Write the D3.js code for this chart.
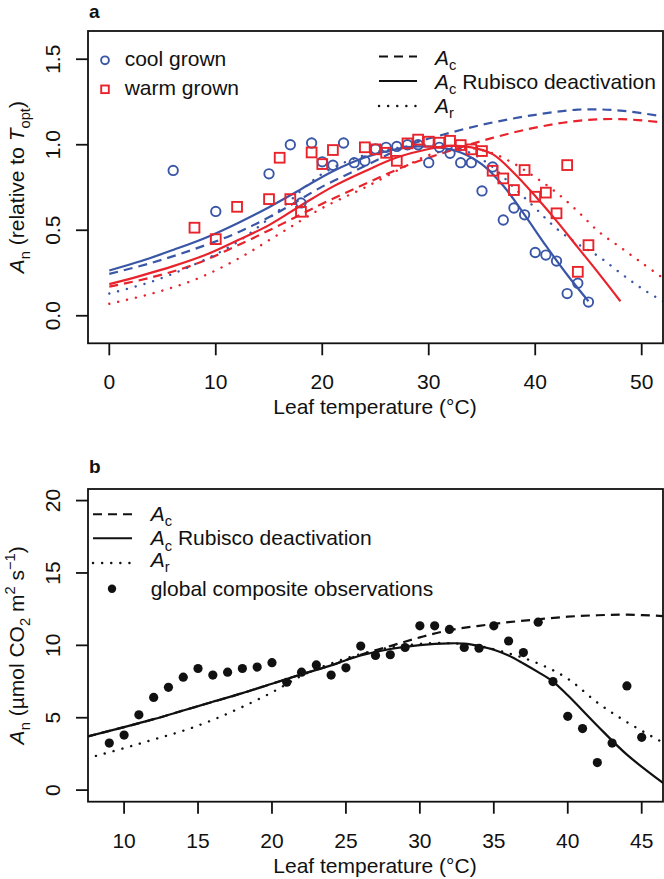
<!DOCTYPE html>
<html><head><meta charset="utf-8">
<script src="https://cdn.jsdelivr.net/npm/d3@7"></script>
<style>
body{margin:0;background:#fff}
text{font-family:"Liberation Sans",Arial,Helvetica,sans-serif;white-space:pre;fill:#111}
</style>
</head><body>
<svg id="chart" width="664" height="879"></svg>
<script>
// ---------- Panel a data ----------
const coolT = [6,10,15,17,18,19,20,21,22,23,24,25,26,27,28,29,30,31,32,33,34,35,36,37,38,39,40,41,42,43,44,45];
const coolV = [0.85,0.61,0.83,1.0,0.66,1.01,0.90,0.88,1.01,0.895,0.905,0.975,0.985,0.99,1.0,1.0,0.895,0.985,0.95,0.895,0.895,0.73,0.87,0.56,0.63,0.59,0.37,0.355,0.32,0.13,0.19,0.08];
const warmT = [8,10,12,15,16,17,18,19,20,21,24,25,26,27,28,29,30,31,32,33,34,35,36,37,38,39,40,41,42,43,44,45];
const warmV = [0.515,0.448,0.637,0.682,0.924,0.682,0.608,0.955,0.887,0.969,0.985,0.973,0.953,0.906,1.008,1.03,1.018,1.012,1.023,0.998,0.973,0.963,0.848,0.803,0.735,0.852,0.696,0.72,0.599,0.881,0.257,0.413];

const coolRubT = [0,3,6,9,12,15,18,21,24,27,29,31,33,35,37,39,41,43,45];
const coolRubV = [0.265,0.32,0.385,0.455,0.54,0.635,0.74,0.845,0.925,0.975,0.99,0.985,0.955,0.885,0.76,0.59,0.41,0.24,0.085];
const warmRubT = [0,3,6,9,12,15,18,21,24,27,30,32,34,36,38,40,42,44,46,48];
const warmRubV = [0.185,0.235,0.29,0.355,0.44,0.53,0.645,0.755,0.845,0.925,0.975,0.993,0.985,0.945,0.835,0.70,0.555,0.40,0.245,0.085];
const acT = [0,4,8,12,16,20,24,28,32,36,40,44,48,52];
const coolAcV = [0.245,0.31,0.39,0.485,0.61,0.755,0.875,0.995,1.07,1.13,1.175,1.205,1.2,1.165];
const warmAcV = [0.17,0.225,0.3,0.41,0.53,0.655,0.77,0.88,0.965,1.04,1.1,1.14,1.15,1.13];
const arT = [0,4,8,12,16,20,24,28,30,32,34,36,38,40,42,44,46,48,50,52];
const coolArV = [0.13,0.2,0.3,0.43,0.62,0.83,0.94,0.99,1.0,0.99,0.95,0.87,0.75,0.63,0.51,0.42,0.345,0.25,0.16,0.085];
const warmArV = [0.07,0.13,0.21,0.33,0.48,0.63,0.75,0.88,0.94,0.97,0.98,0.95,0.89,0.81,0.72,0.61,0.49,0.40,0.31,0.22];
const xTicksA = [0,10,20,30,40,50];
const yTicksA = [0,0.5,1.0,1.5];
const yTickLabelsA = ["0.0","0.5","1.0","1.5"];

// ---------- Panel b data ----------
const obsT = [9,10,11,12,13,14,15,16,17,18,19,20,21,22,23,24,25,26,27,28,29,30,31,32,33,34,35,36,37,38,39,40,41,42,43,44,45];
const obsV = [3.25,3.8,5.2,6.4,7.1,7.8,8.4,7.95,8.15,8.4,8.5,8.8,7.45,8.15,8.65,7.95,8.45,9.95,9.3,9.35,9.85,11.35,11.35,11.1,9.85,9.8,11.35,10.3,9.5,11.6,7.5,5.1,4.25,1.9,3.25,7.2,3.65];
const bRubT = [7.5,10,12,14,16,18,20,22,24,26,28,30,32,33,34,35,36,37,38,39,40,42,44,46.5];
const bRubV = [3.7,4.35,4.9,5.5,6.1,6.7,7.35,8.0,8.62,9.3,9.75,10.02,10.14,10.12,9.95,9.7,9.3,8.75,8.15,7.5,6.55,4.45,2.45,0.45];
const bAcT = [7.5,10,12,14,16,18,20,22,24,26,28,30,32,34,36,38,40,42,44,46.5];
const bAcV = [3.7,4.35,4.9,5.5,6.1,6.7,7.35,8.0,8.62,9.35,9.95,10.55,11.05,11.35,11.6,11.8,11.98,12.08,12.12,12.02];
const bArT = [7.5,10,12,14,16,18,20,22,24,26,28,30,32,34,36,38,40,42,44,46.5];
const bArV = [2.2,2.9,3.5,4.1,4.85,5.75,6.75,7.9,8.75,9.4,9.85,10.1,10.15,9.95,9.45,8.75,7.7,6.05,4.7,3.25];
const xTicksB = [10,15,20,25,30,35,40,45];
const yTicksB = [0,5,10,15,20];

const BLUE = "#3a56a6", RED = "#e8232b";
const FS = 21;
const svg = d3.select("#chart");

function rich(sel, parts, fs) {
  let shift = 0;
  parts.forEach(p => {
    const ts = sel.append("tspan").text(p.t);
    const target = p.sub ? fs * 0.28 : p.sup ? -fs * 0.42 : 0;
    ts.attr("dy", target - shift); shift = target;
    if (p.sub || p.sup) ts.attr("font-size", fs * 0.7);
    if (p.it) ts.attr("font-style", "italic");
  });
  return sel;
}

function panel(cfg) {
  const x = d3.scaleLinear().domain(cfg.xd).range([88, 663]);
  const y = d3.scaleLinear().domain(cfg.yd).range([cfg.bottom, cfg.top]);
  const g = svg.append("g");
  const id = "clip" + cfg.name;
  svg.append("clipPath").attr("id", id).append("rect")
    .attr("x", 88).attr("y", cfg.top).attr("width", 575).attr("height", cfg.bottom - cfg.top);
  const plot = g.append("g").attr("clip-path", `url(#${id})`);
  g.selectAll(".xt").data(cfg.xt).enter().append("line")
    .attr("x1", d => x(d)).attr("x2", d => x(d))
    .attr("y1", cfg.bottom).attr("y2", cfg.bottom + 12)
    .attr("stroke", "#111").attr("stroke-width", 1.8);
  g.selectAll(".xl").data(cfg.xt).enter().append("text")
    .attr("x", d => x(d)).attr("y", cfg.bottom + 46).attr("text-anchor", "middle")
    .attr("font-size", FS).text(d => d);
  g.selectAll(".yt").data(cfg.yt).enter().append("line")
    .attr("x1", 76).attr("x2", 88).attr("y1", d => y(d)).attr("y2", d => y(d))
    .attr("stroke", "#111").attr("stroke-width", 1.8);
  g.selectAll(".yl").data(cfg.yt).enter().append("text")
    .attr("transform", d => `translate(60,${y(d)}) rotate(-90)`)
    .attr("text-anchor", "middle").attr("font-size", FS)
    .text((d, i) => cfg.ytl[i]);
  g.append("text").attr("x", 375).attr("y", cfg.bottom + 71).attr("text-anchor", "middle")
    .attr("font-size", FS).text("Leaf temperature (°C)");
  rich(g.append("text").attr("transform", `translate(24,${(cfg.top + cfg.bottom) / 2}) rotate(-90)`)
    .attr("text-anchor", "middle").attr("font-size", FS), cfg.ytitle, FS);
  g.append("text").attr("x", 89).attr("y", cfg.letterY).attr("font-size", 19)
    .attr("font-weight", "bold").text(cfg.name);
  g.append("rect").attr("x", 88).attr("y", cfg.top).attr("width", 575).attr("height", cfg.bottom - cfg.top)
    .attr("fill", "none").attr("stroke", "#111").attr("stroke-width", 1.8);
  return {x, y, plot, g};
}

const DASH = "9,6", DOT = "0.1,9";
function curve(P, ts, vs, color, dash, w) {
  const line = d3.line().x(d => P.x(d[0])).y(d => P.y(d[1])).curve(d3.curveCatmullRom.alpha(0.5));
  P.plot.append("path").datum(ts.map((t, i) => [t, vs[i]]))
    .attr("d", line).attr("fill", "none").attr("stroke", color)
    .attr("stroke-width", w).attr("stroke-dasharray", dash)
    .attr("stroke-linecap", dash === DOT ? "round" : "butt");
}

// ---------- Panel a ----------
const A = panel({name: "a", xd: [-2, 52], yd: [-0.161, 1.665], top: 31, bottom: 343.3, letterY: 18,
  xt: xTicksA, yt: yTicksA, ytl: yTickLabelsA,
  ytitle: [{t: "A", it: 1}, {t: "n", sub: 1}, {t: " (relative to "}, {t: "T", it: 1}, {t: "opt", sub: 1}, {t: ")"}]});

curve(A, acT, coolAcV, BLUE, DASH, 2.2);
curve(A, acT, warmAcV, RED, DASH, 2.2);
curve(A, arT, coolArV, BLUE, DOT, 2.4);
curve(A, arT, warmArV, RED, DOT, 2.4);
curve(A, coolRubT, coolRubV, BLUE, null, 2.2);
curve(A, warmRubT, warmRubV, RED, null, 2.2);

A.plot.selectAll(".cool").data(coolT).enter().append("circle")
  .attr("cx", d => A.x(d)).attr("cy", (d, i) => A.y(coolV[i])).attr("r", 4.7)
  .attr("fill", "none").attr("stroke", BLUE).attr("stroke-width", 1.9);
A.plot.selectAll(".warm").data(warmT).enter().append("rect")
  .attr("x", d => A.x(d) - 4.9).attr("y", (d, i) => A.y(warmV[i]) - 4.9)
  .attr("width", 9.8).attr("height", 9.8)
  .attr("fill", "none").attr("stroke", RED).attr("stroke-width", 1.9);

A.g.append("circle").attr("cx", 105).attr("cy", 60.3).attr("r", 3.9)
  .attr("fill", "none").attr("stroke", BLUE).attr("stroke-width", 1.9);
A.g.append("rect").attr("x", 101.2).attr("y", 85.5).attr("width", 7.6).attr("height", 7.6)
  .attr("fill", "none").attr("stroke", RED).attr("stroke-width", 1.9);
A.g.append("text").attr("x", 124.7).attr("y", 65.5).attr("font-size", FS).text("cool grown");
A.g.append("text").attr("x", 124.7).attr("y", 94.5).attr("font-size", FS).text("warm grown");
const legA = [{d: DASH, y: 56.5, w: 2}, {d: null, y: 81, w: 2}, {d: DOT, y: 106, w: 2.4}];
legA.forEach(l => A.g.append("line").attr("x1", 379).attr("x2", 417).attr("y1", l.y).attr("y2", l.y)
  .attr("stroke", "#111").attr("stroke-width", l.w).attr("stroke-dasharray", l.d)
  .attr("stroke-linecap", l.d === DOT ? "round" : "butt"));
rich(A.g.append("text").attr("x", 435).attr("y", 64.5).attr("font-size", FS), [{t: "A", it: 1}, {t: "c", sub: 1}], FS);
rich(A.g.append("text").attr("x", 435).attr("y", 88.5).attr("font-size", FS), [{t: "A", it: 1}, {t: "c", sub: 1}, {t: " "}, {t: "Rubisco deactivation"}], FS);
rich(A.g.append("text").attr("x", 435).attr("y", 112.5).attr("font-size", FS), [{t: "A", it: 1}, {t: "r", sub: 1}], FS);

// ---------- Panel b ----------
const B = panel({name: "b", xd: [7.56, 46.44], yd: [-0.8, 20.8], top: 489, bottom: 801.7, letterY: 472.7,
  xt: xTicksB, yt: yTicksB, ytl: yTicksB.map(String),
  ytitle: [{t: "A", it: 1}, {t: "n", sub: 1}, {t: " (µmol CO"}, {t: "2", sub: 1}, {t: " m"}, {t: "2", sup: 1}, {t: " s"}, {t: "−1", sup: 1}, {t: ")"}]});

curve(B, bAcT, bAcV, "#111", DASH, 2.2);
curve(B, bArT, bArV, "#111", DOT, 2.4);
curve(B, bRubT, bRubV, "#111", null, 2.2);
B.plot.selectAll(".obs").data(obsT).enter().append("circle")
  .attr("cx", d => B.x(d)).attr("cy", (d, i) => B.y(obsV[i])).attr("r", 4.6).attr("fill", "#111");

const legB = [{d: DASH, y: 514.3, w: 2}, {d: null, y: 538.3, w: 2}, {d: DOT, y: 563, w: 2.4}];
legB.forEach(l => B.g.append("line").attr("x1", 93).attr("x2", 132).attr("y1", l.y).attr("y2", l.y)
  .attr("stroke", "#111").attr("stroke-width", l.w).attr("stroke-dasharray", l.d)
  .attr("stroke-linecap", l.d === DOT ? "round" : "butt"));
B.g.append("circle").attr("cx", 112).attr("cy", 588.8).attr("r", 4.2).attr("fill", "#111");
rich(B.g.append("text").attr("x", 150.7).attr("y", 520.5).attr("font-size", FS), [{t: "A", it: 1}, {t: "c", sub: 1}], FS);
rich(B.g.append("text").attr("x", 150.7).attr("y", 545).attr("font-size", FS), [{t: "A", it: 1}, {t: "c", sub: 1}, {t: " "}, {t: "Rubisco deactivation"}], FS);
rich(B.g.append("text").attr("x", 150.7).attr("y", 566.5).attr("font-size", FS), [{t: "A", it: 1}, {t: "r", sub: 1}], FS);
B.g.append("text").attr("x", 150.7).attr("y", 595.5).attr("font-size", FS).text("global composite observations");
</script>
</body></html>
